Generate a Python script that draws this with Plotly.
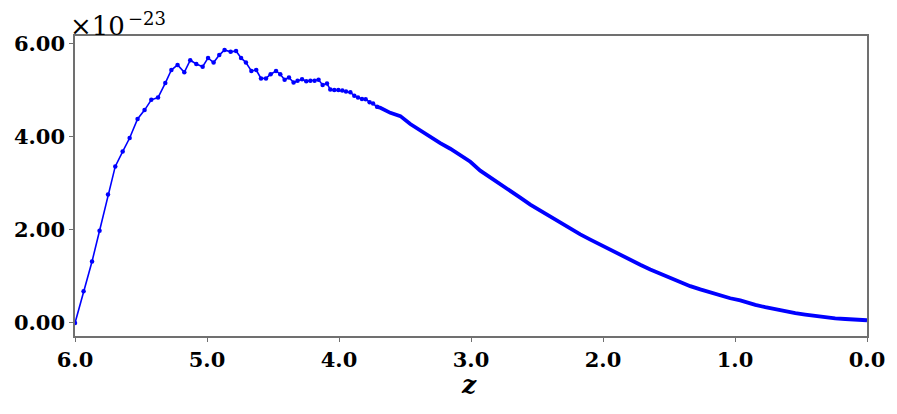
import plotly.graph_objects as go

# Redshift values and quantity (in units of 1e-23)
z_noisy = [6.000, 5.935, 5.871, 5.814, 5.750, 5.695, 5.639, 5.586, 5.526, 5.473,
           5.422, 5.371, 5.316, 5.270, 5.223, 5.172, 5.127, 5.081, 5.033, 4.992,
           4.950, 4.907, 4.867, 4.821, 4.780, 4.742, 4.705, 4.664, 4.627, 4.591,
           4.553, 4.518, 4.477, 4.445, 4.412, 4.379, 4.344, 4.314, 4.280, 4.248,
           4.217, 4.185, 4.155, 4.124, 4.091, 4.066, 4.036, 4.005, 3.975, 3.947,
           3.914, 3.884, 3.856, 3.826, 3.798, 3.768, 3.742, 3.712]
v_noisy = [0.00, 0.68, 1.32, 1.98, 2.76, 3.36, 3.68, 3.97, 4.38, 4.57,
           4.79, 4.84, 5.15, 5.43, 5.54, 5.38, 5.64, 5.56, 5.50, 5.69,
           5.59, 5.75, 5.86, 5.82, 5.84, 5.69, 5.59, 5.41, 5.43, 5.25,
           5.25, 5.34, 5.41, 5.34, 5.22, 5.27, 5.16, 5.20, 5.23, 5.19,
           5.20, 5.20, 5.22, 5.11, 5.14, 5.01, 5.00, 5.00, 4.99, 4.97,
           4.95, 4.88, 4.84, 4.81, 4.80, 4.74, 4.71, 4.64]

z_smooth = [3.712, 3.687, 3.611, 3.535, 3.460, 3.384, 3.308, 3.233, 3.157, 3.081,
            3.005, 2.930, 2.854, 2.778, 2.702, 2.627, 2.551, 2.475, 2.399, 2.323,
            2.248, 2.172, 2.096, 2.020, 1.945, 1.869, 1.793, 1.718, 1.642, 1.566,
            1.490, 1.414, 1.339, 1.263, 1.187, 1.111, 1.036, 0.960, 0.922, 0.846,
            0.771, 0.695, 0.619, 0.543, 0.468, 0.392, 0.316, 0.241, 0.165, 0.089,
            0.000]
v_smooth = [4.64, 4.62, 4.51, 4.44, 4.27, 4.13, 3.99, 3.86, 3.74, 3.59,
            3.46, 3.27, 3.13, 2.97, 2.83, 2.69, 2.54, 2.41, 2.29, 2.16,
            2.04, 1.90, 1.79, 1.68, 1.58, 1.45, 1.34, 1.25, 1.15, 1.06,
            0.96, 0.88, 0.79, 0.72, 0.65, 0.58, 0.53, 0.485, 0.45, 0.39,
            0.34, 0.29, 0.25, 0.21, 0.18, 0.15, 0.12, 0.10, 0.085, 0.073,
            0.058]

x_ticks = [6.0, 5.0, 4.0, 3.0, 2.0, 1.0, 0.0]
x_ticklabels = ["6.0", "5.0", "4.0", "3.0", "2.0", "1.0", "0.0"]
y_ticks = [0, 2, 4, 6]
y_ticklabels = ["0.00", "2.00", "4.00", "6.00"]

BLUE = "#0000ff"
tick_font = dict(family="DejaVu Serif", size=21, color="black", weight="bold")

fig = go.Figure()
fig.add_trace(go.Scatter(x=z_noisy, y=v_noisy, mode="lines+markers",
                         line=dict(color=BLUE, width=1.6),
                         marker=dict(color=BLUE, size=4.5),
                         showlegend=False, hoverinfo="x+y"))
fig.add_trace(go.Scatter(x=z_smooth, y=v_smooth, mode="lines",
                         line=dict(color=BLUE, width=3.8),
                         showlegend=False, hoverinfo="x+y"))

axis_common = dict(showline=True, mirror=True, linecolor="#707070", linewidth=1.5,
                   ticks="outside", ticklen=4, tickcolor="#707070", tickwidth=1,
                   showgrid=False, zeroline=False, tickfont=tick_font, automargin=False)

fig.update_xaxes(range=[6, 0], tickvals=x_ticks, ticktext=x_ticklabels, **axis_common)
fig.update_yaxes(range=[-0.28, 6.16], tickvals=y_ticks, ticktext=y_ticklabels, **axis_common)

# offset multiplier: "×10" plus a separate raised exponent
fig.add_annotation(xref="paper", yref="paper", x=0, y=1.035, xanchor="left", yanchor="middle",
                   xshift=-6, showarrow=False, borderpad=0,
                   text="×10", font=dict(family="DejaVu Serif", size=26, color="black"))
fig.add_annotation(xref="paper", yref="paper", x=0, y=1.058, xanchor="left", yanchor="middle",
                   xshift=52, showarrow=False, borderpad=0,
                   text="−23", font=dict(family="DejaVu Serif", size=18, color="black"))
fig.add_annotation(xref="paper", yref="paper", x=0.497, y=-0.163, xanchor="center", yanchor="middle",
                   showarrow=False, text="<b><i>z</i></b>",
                   font=dict(family="DejaVu Serif", size=25, color="black"))

# page body has an 8px default margin; compensate so the plot area lands where the reference has it
fig.update_layout(width=889, height=406, margin=dict(l=67, r=30, t=28, b=78),
                  plot_bgcolor="white", paper_bgcolor="white")

fig.write_html("out.html")
